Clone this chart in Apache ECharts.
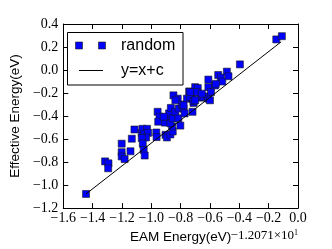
<!DOCTYPE html>
<html><head><meta charset="utf-8">
<script src="https://cdn.jsdelivr.net/npm/echarts@6/dist/echarts.min.js"></script>
<style>html,body{margin:0;padding:0;background:#fff}#c{width:332px;height:249px}</style>
</head><body><div id="c"></div>
<script>
const xTicks = [-1.6,-1.4,-1.2,-1.0,-0.8,-0.6,-0.4,-0.2,0.0];
const yTicks = [-1.2,-1.0,-0.8,-0.6,-0.4,-0.2,0.0,0.2,0.4];
const randomX = [-1.445,-1.315,-1.292,-1.294,-1.202,-1.202,-1.202,-1.182,-1.142,-1.133,-1.115,-1.065,-1.061,-1.029,-1.049,-1.022,-1.036,-1.065,-1.058,-1.052,-1.045,-0.966,-0.964,-0.957,-0.944,-0.899,-0.908,-0.879,-0.903,-0.894,-0.870,-0.854,-0.858,-0.870,-0.854,-0.867,-0.849,-0.820,-0.836,-0.816,-0.802,-0.813,-0.791,-0.780,-0.773,-0.757,-0.742,-0.730,-0.719,-0.712,-0.719,-0.701,-0.683,-0.665,-0.645,-0.618,-0.611,-0.611,-0.593,-0.611,-0.544,-0.526,-0.516,-0.485,-0.474,-0.566,-0.396,-0.148,-0.110,-0.953,-0.915,-0.836,-0.780,-0.735,-0.712,-0.690,-0.656,-0.600,-0.560,-0.701,-0.735];
const randomY = [-1.077,-0.794,-0.811,-0.854,-0.640,-0.714,-0.751,-0.774,-0.706,-0.597,-0.517,-0.546,-0.511,-0.511,-0.554,-0.546,-0.586,-0.591,-0.640,-0.694,-0.743,-0.543,-0.583,-0.363,-0.406,-0.409,-0.457,-0.377,-0.563,-0.586,-0.560,-0.534,-0.491,-0.463,-0.420,-0.329,-0.220,-0.249,-0.363,-0.420,-0.483,-0.334,-0.300,-0.334,-0.377,-0.249,-0.186,-0.200,-0.249,-0.286,-0.363,-0.149,-0.157,-0.240,-0.234,-0.229,-0.149,-0.083,-0.191,-0.249,-0.043,-0.066,-0.100,-0.014,-0.054,-0.134,0.049,0.266,0.294,-0.449,-0.406,-0.263,-0.306,-0.234,-0.271,-0.191,-0.206,-0.263,-0.120,-0.263,-0.191];
const lineX = [-1.445, -0.115];
const lineY = [-1.077, 0.245];
const seriesNames = ['random', 'y=x+c'];
const xLabel = 'EAM Energy(eV)';
const yLabel = 'Effective Energy(eV)';

const fmt = v => { const s = (Math.abs(v) < 1e-9 ? 0 : v).toFixed(1); return s.replace('-', '\u2212'); };
const serif = 'Liberation Serif';
const sans = 'Liberation Sans';
const axisCommon = {
  type: 'value', min: xTicks[0], max: xTicks[xTicks.length-1], interval: 0.2,
  splitLine: {show: false},
  axisLine: {show: true, onZero: false, lineStyle: {color: '#000', width: 1}},
  axisTick: {show: true, inside: true, length: 5, lineStyle: {color: '#000', width: 1}}
};
const chart = echarts.init(document.getElementById('c'), null, {renderer: 'canvas'});
chart.setOption({
  animation: false,
  backgroundColor: '#fff',
  grid: {left: 60, right: 34, top: 24, bottom: 38, show: false},
  xAxis: [
    Object.assign({}, axisCommon, {position: 'bottom',
      axisLabel: {formatter: fmt, color: '#000', fontFamily: serif, fontSize: 14, margin: 3},
      name: xLabel, nameLocation: 'middle', nameGap: 21,
      nameTextStyle: {fontFamily: sans, fontSize: 13.5, color: '#000'}}),
    Object.assign({}, axisCommon, {position: 'top', axisLabel: {show: false}})
  ],
  yAxis: [
    Object.assign({}, axisCommon, {min: yTicks[0], max: yTicks[yTicks.length-1], position: 'left',
      axisLabel: {formatter: fmt, color: '#000', fontFamily: serif, fontSize: 14, margin: 5},
      name: yLabel, nameLocation: 'middle', nameGap: 40,
      nameTextStyle: {fontFamily: sans, fontSize: 13.5, color: '#000'}}),
    Object.assign({}, axisCommon, {min: yTicks[0], max: yTicks[yTicks.length-1], position: 'right', axisLabel: {show: false}})
  ],
  series: [
    {name: seriesNames[0], type: 'scatter', symbol: 'rect', symbolSize: 7, z: 2,
     itemStyle: {color: '#0000ff', borderColor: '#1a1a1a', borderWidth: 0.6, opacity: 1},
     data: randomX.map((x, i) => [x, randomY[i]])},
    {name: seriesNames[1], type: 'line', symbol: 'none', z: 3,
     lineStyle: {color: '#000', width: 1},
     data: lineX.map((x, i) => [x, lineY[i]])}
  ],
  graphic: [
    {type: 'rect', shape: {x: 67.5, y: 32.5, width: 115.5, height: 52.5}, style: {fill: '#fff', stroke: '#000', lineWidth: 1}, z: 10},
    {type: 'rect', shape: {x: 75.5, y: 42, width: 7, height: 7}, style: {fill: '#0000ff', stroke: '#1a1a1a', lineWidth: 0.6}, z: 11},
    {type: 'rect', shape: {x: 98.5, y: 42, width: 7, height: 7}, style: {fill: '#0000ff', stroke: '#1a1a1a', lineWidth: 0.6}, z: 11},
    {type: 'text', x: 121, y: 45.5, style: {text: seriesNames[0], font: '16px "Liberation Sans"', fill: '#000', textVerticalAlign: 'middle'}, z: 11},
    {type: 'line', shape: {x1: 79, y1: 70.5, x2: 103, y2: 70.5}, style: {stroke: '#000', lineWidth: 1}, z: 11},
    {type: 'text', x: 121, y: 70.5, style: {text: seriesNames[1], font: '16px "Liberation Sans"', fill: '#000', textVerticalAlign: 'middle'}, z: 11},
    {type: 'text', right: 34, top: 229, z: 11,
     style: {text: '{a|\u22121.2071\u00d710}{b|1}', rich: {a: {fontFamily: serif, fontSize: 13, fill: '#000', color: '#000'}, b: {fontFamily: serif, fontSize: 8, fill: '#000', color: '#000', verticalAlign: 'top', padding: [0,0,6,0]}}}}
  ]
});
</script></body></html>
